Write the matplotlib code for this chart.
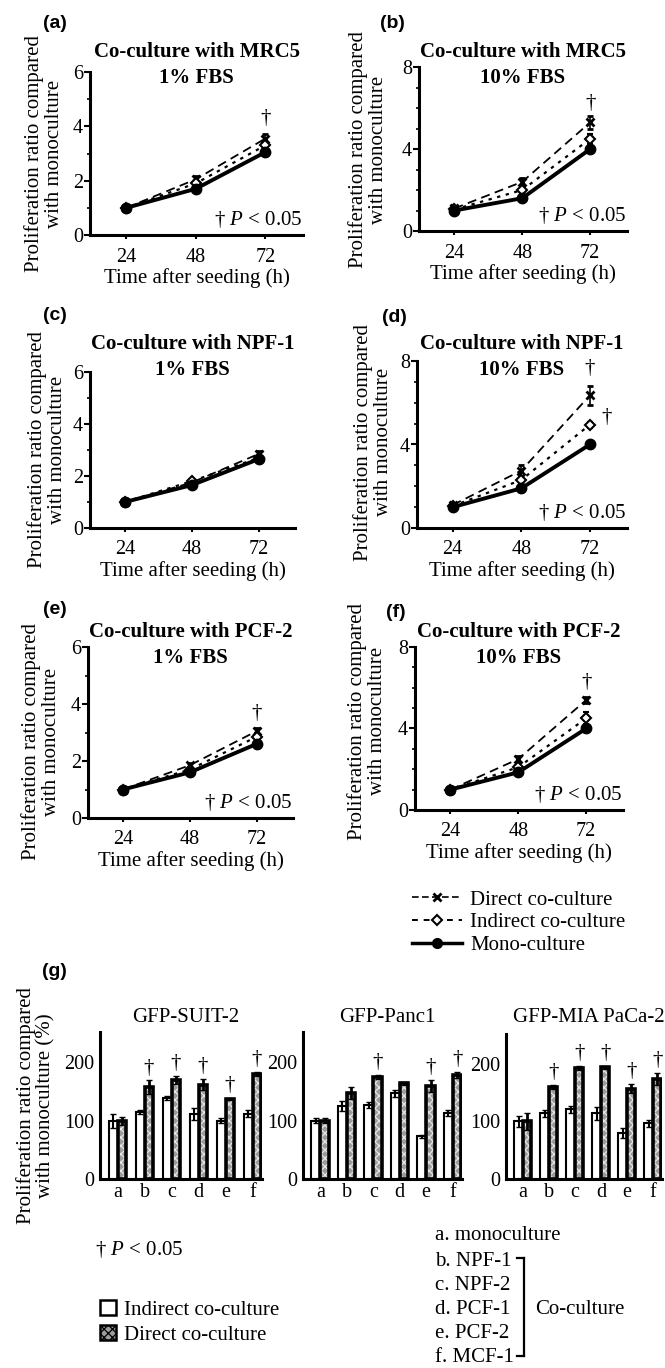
import numpy as np
import matplotlib
matplotlib.use('Agg')
import matplotlib.pyplot as plt
from matplotlib.lines import Line2D
from matplotlib.patches import Patch

plt.rcParams['font.family'] = ['Liberation Serif', 'DejaVu Serif']
plt.rcParams['font.size'] = 15
plt.rcParams['mathtext.fontset'] = 'custom'
plt.rcParams['mathtext.it'] = 'Liberation Serif:italic'
plt.rcParams['mathtext.rm'] = 'Liberation Serif'
plt.rcParams['hatch.linewidth'] = 0.9

W, H = 665, 1368

# ---- line panels (a)-(f) ----
hours = [24, 48, 72]
title_cells = ['Co-culture with MRC5', 'Co-culture with MRC5',
               'Co-culture with NPF-1', 'Co-culture with NPF-1',
               'Co-culture with PCF-2', 'Co-culture with PCF-2']
title_fbs = ['1% FBS', '10% FBS', '1% FBS', '10% FBS', '1% FBS', '10% FBS']
panel_tags = ['(a)', '(b)', '(c)', '(d)', '(e)', '(f)']
ymax = [6, 8, 6, 8, 6, 8]

direct = [[1.0, 2.05, 3.55], [1.1, 2.4, 5.3], [1.0, 1.75, 2.85],
          [1.1, 2.75, 6.35], [1.0, 1.85, 3.05], [1.0, 2.5, 5.4]]
indirect = [[1.0, 1.9, 3.3], [1.05, 2.0, 4.5], [1.0, 1.8, 2.7],
            [1.05, 2.3, 4.95], [1.0, 1.7, 2.85], [1.0, 2.1, 4.5]]
mono = [[1.0, 1.7, 3.05], [1.0, 1.6, 4.0], [1.0, 1.65, 2.65],
        [1.0, 1.9, 4.0], [1.0, 1.6, 2.6], [1.0, 1.85, 4.0]]
direct_err = [[0.05, 0.12, 0.15], [0.05, 0.2, 0.3], [0.05, 0.08, 0.1],
              [0.05, 0.25, 0.45], [0.05, 0.08, 0.12], [0.05, 0.15, 0.15]]
indirect_err = [[0.05, 0.1, 0.12], [0.05, 0.2, 0.25], [0.05, 0.1, 0.08],
                [0.05, 0.2, 0.15], [0.05, 0.08, 0.15], [0.05, 0.15, 0.3]]
mono_err = [[0.05, 0.08, 0.1], [0.05, 0.1, 0.15], [0.05, 0.08, 0.08],
            [0.05, 0.1, 0.1], [0.05, 0.06, 0.1], [0.05, 0.08, 0.15]]
daggers = [[(72, 4.3)], [(72, 6.2)], [], [(72, 7.65), (78, 5.27)],
           [(72, 3.68)], [(72, 6.28)]]
show_p = [True, True, False, True, True, True]

# ---- bar panels (g) ----
groups = ['a', 'b', 'c', 'd', 'e', 'f']
cell_lines = ['GFP-SUIT-2', 'GFP-Panc1', 'GFP-MIA PaCa-2']
ind_vals = [[100, 115, 139, 111, 100, 112],
            [100, 125, 127, 147, 73, 113],
            [100, 114, 121, 114, 80, 97]]
dir_vals = [[100, 157, 170, 162, 137, 180],
            [100, 147, 175, 164, 160, 178],
            [100, 160, 193, 194, 157, 174]]
ind_err = [[12, 4, 4, 10, 4, 6],
           [4, 8, 5, 6, 2, 5],
           [10, 6, 6, 12, 8, 6]]
dir_err = [[7, 12, 7, 10, 2, 3],
           [4, 10, 4, 3, 10, 5],
           [14, 3, 4, 3, 8, 10]]
sig = [[0, 1, 1, 1, 1, 1],
       [0, 0, 1, 0, 1, 1],
       [0, 1, 1, 1, 1, 1]]

coculture_names = ['a. monoculture', 'b. NPF-1', 'c. NPF-2', 'd. PCF-1', 'e. PCF-2', 'f. MCF-1']


def box(l, t, r, b):
    return [l / W, 1 - b / H, (r - l) / W, (b - t) / H]


def fx(x):
    return x / W


def fy(y):
    return 1 - y / H


fig = plt.figure(figsize=(W / 100, H / 100), dpi=100)

line_boxes = [(90, 72, 303, 235), (419, 67, 627, 231),
              (90, 372, 295, 528), (417, 361, 627, 528),
              (88, 647, 293, 818), (415, 647, 623, 810)]
title_y = [65, 65, 357, 357, 645, 645]
ylab_xy = [(44, 154), (368, 150), (47, 450), (373, 442), (41, 742), (367, 721)]
tag_xy = [(43, 23), (380, 23), (43, 315), (382, 318), (43, 610), (386, 612)]

for i in range(6):
    l, t, r, b = line_boxes[i]
    ax = fig.add_axes(box(l, t, r, b))
    ax.errorbar(hours, direct[i], yerr=direct_err[i], color='k', ls=(0, (5, 3)), lw=1.3,
                marker='x', ms=6, mew=2, capsize=2, elinewidth=1.2, zorder=3)
    ax.errorbar(hours, indirect[i], yerr=indirect_err[i], color='k', ls=(0, (1.5, 2.5)), lw=1.6,
                marker='D', mfc='white', ms=5, mew=1.5, capsize=2, elinewidth=1.2, zorder=3)
    ax.errorbar(hours, mono[i], yerr=mono_err[i], color='k', ls='-', lw=2.8,
                marker='o', ms=7.5, capsize=2, elinewidth=1.2, zorder=4)
    ax.set_xlim(11.5, 85)
    ax.set_ylim(0, ymax[i])
    ax.set_xticks(hours)
    ax.set_yticks(np.arange(0, ymax[i] + 1, ymax[i] // 2 if ymax[i] == 8 else 2))
    ax.set_yticks(np.arange(0, ymax[i] + 1, 1), minor=True)
    ax.tick_params(axis='y', which='major', length=4, width=1.5, pad=1, labelsize=14.5)
    ax.tick_params(axis='y', which='minor', length=2, width=1.2)
    ax.tick_params(axis='x', length=3, width=1.5, pad=6, labelsize=14.5)
    for s in ['top', 'right']:
        ax.spines[s].set_visible(False)
    for s in ['left', 'bottom']:
        ax.spines[s].set_linewidth(2.2)
    ax.set_xlabel('Time after seeding (h)', labelpad=1)
    cx = fx((l + r) / 2)
    fig.text(cx, fy(title_y[i] - 13), title_cells[i], ha='center', va='center', fontweight='bold')
    fig.text(cx, fy(title_y[i] + 13), title_fbs[i], ha='center', va='center', fontweight='bold')
    fig.text(fx(ylab_xy[i][0]), fy(ylab_xy[i][1]), 'Proliferation ratio compared\nwith monoculture',
             rotation=90, ha='center', va='center', linespacing=1.05)
    fig.text(fx(tag_xy[i][0]), fy(tag_xy[i][1]), panel_tags[i], ha='left', va='center',
             family='Liberation Sans', fontweight='bold', fontsize=14)
    for (dx, dy) in daggers[i]:
        ax.text(dx, dy, '†', ha='center', va='center', fontsize=15)
    if show_p[i]:
        ax.text(0.995, 0.03, '† $P$ < 0.05', transform=ax.transAxes, ha='right', va='bottom')

legend_handles = [
    Line2D([], [], color='k', ls=(0, (4, 2)), lw=1.2, marker='x', ms=6, mew=2),
    Line2D([], [], color='k', ls=(0, (3, 3)), lw=1.4, marker='D', mfc='white', ms=5, mew=1.5),
    Line2D([], [], color='k', ls='-', lw=2.5, marker='o', ms=7),
]
fig.legend(legend_handles, ['Direct co-culture', 'Indirect co-culture', 'Mono-culture'],
           loc='upper left', bbox_to_anchor=(fx(412), fy(890)), frameon=False,
           handlelength=2.4, handletextpad=0.4, labelspacing=0.15, borderpad=0,
           borderaxespad=0)

# ---- panel (g) ----
bar_boxes = [(100, 1032, 262, 1179), (303, 1032, 462, 1179), (506, 1034, 662, 1179)]
bx = np.arange(len(groups))
w = 0.33
for k in range(3):
    l, t, r, b = bar_boxes[k]
    ax = fig.add_axes(box(l, t, r, b))
    ax.bar(bx - w / 2, ind_vals[k], w, color='white', edgecolor='k', lw=1.5, zorder=2)
    ax.bar(bx + w / 2, dir_vals[k], w, color='#9c9c9c', edgecolor='#e6e6e6', hatch='xxxx',
           lw=0, zorder=2)
    ax.bar(bx + w / 2, dir_vals[k], w, fill=False, edgecolor='k', lw=2.6, zorder=3)
    ax.errorbar(bx - w / 2, ind_vals[k], yerr=ind_err[k], fmt='none', ecolor='k',
                elinewidth=1.5, capsize=2, zorder=4)
    ax.errorbar(bx + w / 2, dir_vals[k], yerr=dir_err[k], fmt='none', ecolor='k',
                elinewidth=2, capsize=2, zorder=4)
    for j in range(len(groups)):
        if sig[k][j]:
            ax.text(bx[j] + w / 2, dir_vals[k][j] + dir_err[k][j] + 5, '†',
                    ha='center', va='bottom', fontsize=15)
    ax.set_xlim(-0.65, 5.35)
    ax.set_ylim(0, 252)
    ax.set_yticks([0, 100, 200])
    ax.set_xticks(bx)
    ax.set_xticklabels(groups)
    ax.tick_params(axis='both', length=0, labelsize=14.5)
    ax.tick_params(axis='y', pad=4)
    ax.tick_params(axis='x', pad=3)
    for s in ['top', 'right']:
        ax.spines[s].set_visible(False)
    for s in ['left', 'bottom']:
        ax.spines[s].set_linewidth(2.2)
    fig.text(fx((l + r) / 2 + 5), fy(1017), cell_lines[k], ha='center', va='center')

fig.text(fx(36), fy(1106), 'Proliferation ratio compared\nwith monoculture (%)',
         rotation=90, ha='center', va='center', linespacing=1.05)
fig.text(fx(42), fy(972), '(g)', ha='left', va='center',
         family='Liberation Sans', fontweight='bold', fontsize=14)

fig.text(fx(95), fy(1250), '† $P$ < 0.05', ha='left', va='center')

bar_handles = [Patch(facecolor='white', edgecolor='k', lw=1.8),
               Patch(facecolor='#9c9c9c', edgecolor='k', hatch='xxxx', lw=1.8)]
fig.legend(bar_handles, ['Indirect co-culture', 'Direct co-culture'],
           loc='upper left', bbox_to_anchor=(fx(100), fy(1300)), frameon=False,
           handlelength=0.75, handleheight=0.75, handletextpad=0.4, labelspacing=0.25,
           borderpad=0, borderaxespad=0)

list_y = [1236, 1261, 1285, 1310, 1334, 1357]
for name, yy in zip(coculture_names, list_y):
    fig.text(fx(435), fy(yy), name, ha='left', va='center')
fig.add_artist(Line2D([fx(524), fx(524)], [fy(1258), fy(1356)], color='k', lw=1.6))
fig.add_artist(Line2D([fx(517), fx(524)], [fy(1258), fy(1258)], color='k', lw=1.6))
fig.add_artist(Line2D([fx(517), fx(524)], [fy(1356), fy(1356)], color='k', lw=1.6))
fig.text(fx(535), fy(1310), 'Co-culture', ha='left', va='center')

fig.savefig('out.png', dpi=100)
